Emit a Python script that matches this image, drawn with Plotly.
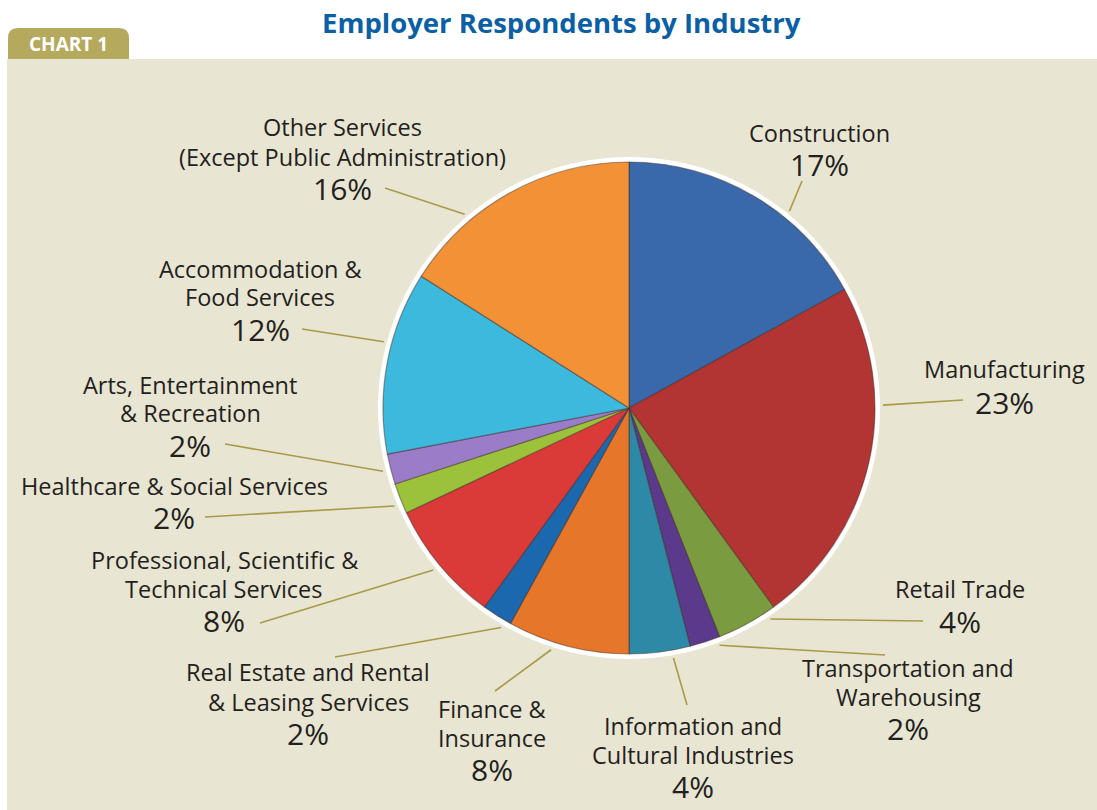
import math
import plotly.graph_objects as go

# Industry shares of employer respondents (percent)
industries = [
    "Construction",
    "Manufacturing",
    "Retail Trade",
    "Transportation and<br>Warehousing",
    "Information and<br>Cultural Industries",
    "Finance &<br>Insurance",
    "Real Estate and Rental<br>& Leasing Services",
    "Professional, Scientific &<br>Technical Services",
    "Healthcare & Social Services",
    "Arts, Entertainment<br>& Recreation",
    "Accommodation &<br>Food Services",
    "Other Services<br>(Except Public Administration)",
]
shares = [17, 23, 4, 2, 4, 8, 2, 8, 2, 2, 12, 16]

slice_colors = [
    "#3a69ab", "#b23433", "#7b9b40", "#5b3a8c", "#2d89a5", "#e6762a",
    "#1c68ae", "#da3b39", "#9cc23b", "#9a7cc9", "#3cb9dd", "#f39136",
]

W, H = 1097, 810
CX, CY = 629, 408          # pie centre (px)
R_PIE = 246                # coloured radius (px)
R_RING = 251               # white rim radius (px)
R_LEAD = 254               # where leader lines meet the pie

# label layout: (centre x, y of each name line, y of percentage, where the
# leader touches the slice as a fraction of the slice, leader end point)
label_layout = [
    (819, [133], 164, 0.64, (802, 181)),
    (1004, [369], 402, 0.34, (963, 400)),
    (960, [589], 621, 0.15, (923, 621)),
    (908, [668, 697], 728, 0.10, (885, 655)),
    (693, [726, 755], 786, 0.30, (687, 705)),
    (492, [709, 738], 769, 0.62, (495, 691)),
    (308, [672, 702], 733, 0.20, (335, 657)),
    (224, [560, 589], 620, 0.50, (260, 623)),
    (174, [486], 517, 0.35, (205, 517)),
    (190, [385, 413], 445, 0.50, (225, 444)),
    (260, [269, 297], 329, 0.60, (302, 329)),
    (342, [127, 157], 188, 0.30, (385, 188)),
]

FONT = "Open Sans, Noto Sans, sans-serif"
TEXT = "#231f20"
LEAD = "#a99a48"
NAME_SIZE = 23.5
PCT_SIZE = 30

fig = go.Figure()

fig.add_trace(go.Pie(
    labels=industries,
    values=shares,
    sort=False,
    direction="clockwise",
    rotation=0,
    textinfo="none",
    hoverinfo="label+percent",
    showlegend=False,
    marker=dict(colors=slice_colors,
                line=dict(color="rgba(60,40,30,0.45)", width=1.2)),
    domain=dict(x=[(CX - R_PIE) / W, (CX + R_PIE) / W],
                y=[(H - CY - R_PIE) / H, (H - CY + R_PIE) / H]),
))

shapes = [
    # beige panel
    dict(type="rect", xref="x", yref="y", x0=7, x1=W, y0=59, y1=H,
         fillcolor="#e8e5d2", line=dict(width=0), layer="below"),
    # "CHART 1" tab with rounded top corners
    dict(type="path", xref="x", yref="y",
         path="M 8,59 L 8,38 Q 8,28 18,28 L 119,28 Q 129,28 129,38 L 129,59 Z",
         fillcolor="#b5a95d", line=dict(width=0), layer="below"),
    # white rim around the pie
    dict(type="circle", xref="x", yref="y",
         x0=CX - R_RING, x1=CX + R_RING, y0=CY - R_RING, y1=CY + R_RING,
         fillcolor="#ffffff", line=dict(width=0), layer="below"),
]

annotations = [
    dict(text="<b>Employer Respondents by Industry</b>", x=561, y=22,
         xref="x", yref="y", showarrow=False, xanchor="center", yanchor="middle",
         font=dict(family=FONT, size=27.5, color="#0b5fa5")),
    dict(text="<b>CHART 1</b>", x=68, y=44, xref="x", yref="y",
         showarrow=False, xanchor="center", yanchor="middle",
         font=dict(family=FONT, size=19, color="#ffffff")),
]

cum = 0.0
for name, val, (lx, name_ys, pct_y, frac, (ex, ey)) in zip(industries, shares, label_layout):
    theta = 2 * math.pi * (cum + frac * val) / 100.0
    sx = CX + R_LEAD * math.sin(theta)
    sy = CY - R_LEAD * math.cos(theta)
    shapes.append(dict(type="line", xref="x", yref="y", x0=sx, y0=sy, x1=ex, y1=ey,
                       line=dict(color=LEAD, width=1.6)))
    for line_text, ly in zip(name.split("<br>"), name_ys):
        annotations.append(dict(text=line_text, x=lx, y=ly, xref="x", yref="y",
                                showarrow=False, xanchor="center", yanchor="middle",
                                font=dict(family=FONT, size=NAME_SIZE, color=TEXT)))
    annotations.append(dict(text=f"{val}%", x=lx, y=pct_y, xref="x", yref="y",
                            showarrow=False, xanchor="center", yanchor="middle",
                            font=dict(family=FONT, size=PCT_SIZE, color=TEXT)))
    cum += val

fig.update_layout(
    width=W, height=H,
    margin=dict(l=0, r=0, t=0, b=0),
    paper_bgcolor="#ffffff",
    plot_bgcolor="rgba(0,0,0,0)",
    xaxis=dict(range=[0, W], visible=False, fixedrange=True, domain=[0, 1]),
    yaxis=dict(range=[H, 0], visible=False, fixedrange=True, domain=[0, 1]),
    shapes=shapes,
    annotations=annotations,
)

fig.write_html("out.html", config={"displayModeBar": False})
